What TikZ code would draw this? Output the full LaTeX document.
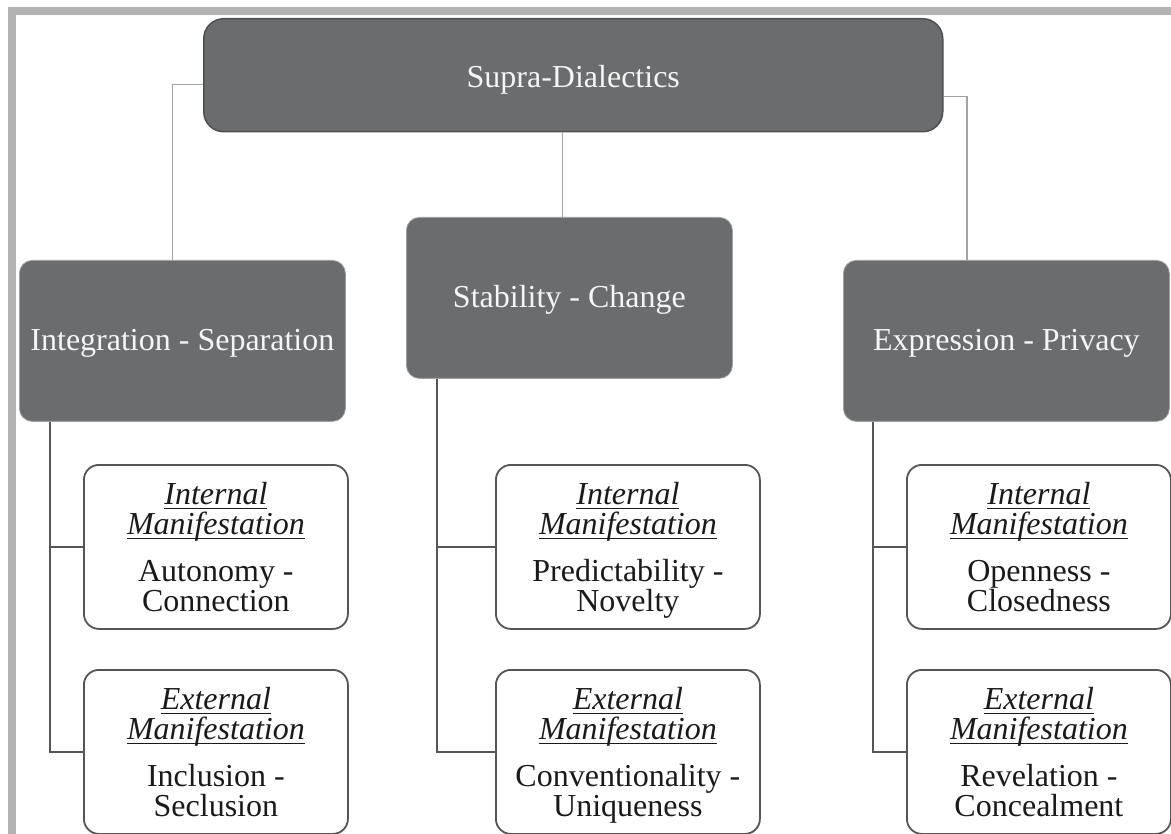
\documentclass[tikz,border=0pt]{standalone}
\usepackage{fontspec}
\setmainfont{Liberation Serif}
\definecolor{boxgrey}{HTML}{6B6C6E}
\definecolor{topedge}{HTML}{4E4F51}
\definecolor{midedge}{HTML}{A0A0A0}
\definecolor{framegrey}{HTML}{B3B3B3}
\definecolor{lightline}{HTML}{A3A3A3}
\definecolor{darkline}{HTML}{555555}
\definecolor{textdark}{HTML}{1A1A1A}
\newsavebox\ulbox
\newcommand\ulx[1]{\sbox\ulbox{#1}\makebox[0pt][l]{\rule[-4.5pt]{\wd\ulbox}{1.4pt}}\usebox\ulbox}
\newcommand\topstrut{\rule{0pt}{29pt}}
\newcommand\botstrut{\rule[-7pt]{0pt}{7pt}}
\tikzset{
  bigfont/.style={font=\fontsize{32}{30}\selectfont},
  topbox/.style={bigfont, anchor=north west, rounded corners=20pt, fill=boxgrey, draw=topedge, line width=1.5pt, text=white!96!black, inner sep=0pt, text height=25pt, text depth=0pt},
  midbox/.style={bigfont, anchor=north west, rounded corners=13pt, fill=boxgrey, draw=midedge, line width=0.8pt, text=white!96!black, inner sep=0pt, minimum width=326pt, minimum height=161pt, text height=20pt, text depth=0pt},
  lowbox/.style={bigfont, anchor=north west, rounded corners=15pt, fill=white, draw=darkline, line width=1.8pt, text=textdark, align=center, inner sep=0pt, minimum width=264pt, minimum height=164pt},
  toplink/.style={draw=lightline, line width=1.4pt},
  sublink/.style={draw=darkline, line width=2pt},
}
\begin{document}
\begin{tikzpicture}[x=1pt, y=-1pt]
\useasboundingbox (0,0) rectangle (1171,834);
% frame
\fill[framegrey] (8,7) rectangle (1171,15);
\fill[framegrey] (8,7) rectangle (16,834);

% nodes
\node[topbox, minimum width=739pt, minimum height=113pt] (T) at (203,18) {Supra-Dialectics};
\node[midbox] (L) at (19,260) {Integration - Separation};
\node[midbox] (M) at (406,217) {Stability - Change};
\node[midbox] (R) at (843,260) {Expression - Privacy};

\node[lowbox] (LI) at (83,464) {\topstrut\ulx{\itshape Internal}\\\ulx{\itshape Manifestation}\\[17pt]Autonomy -\\Connection\botstrut};
\node[lowbox] (LE) at (83,669) {\topstrut\ulx{\itshape External}\\\ulx{\itshape Manifestation}\\[17pt]Inclusion -\\Seclusion\botstrut};
\node[lowbox] (MI) at (495,464) {\topstrut\ulx{\itshape Internal}\\\ulx{\itshape Manifestation}\\[17pt]Predictability -\\Novelty\botstrut};
\node[lowbox] (ME) at (495,669) {\topstrut\ulx{\itshape External}\\\ulx{\itshape Manifestation}\\[17pt]Conventionality -\\Uniqueness\botstrut};
\node[lowbox] (RI) at (906,464) {\topstrut\ulx{\itshape Internal}\\\ulx{\itshape Manifestation}\\[17pt]Openness -\\Closedness\botstrut};
\node[lowbox] (RE) at (906,669) {\topstrut\ulx{\itshape External}\\\ulx{\itshape Manifestation}\\[17pt]Revelation -\\Concealment\botstrut};

% top-level connectors
\draw[toplink] ([yshift=-9.5pt]T.west) -| ([xshift=-10pt]L.north);
\draw[toplink] ([yshift=-21.5pt]T.east) -| ([xshift=-39.5pt]R.north);
\draw[toplink] ([xshift=-11pt]T.south) -- ([xshift=-11pt]T.south |- M.north);

% sub connectors
\coordinate (lv) at ([xshift=31pt]L.south west);
\coordinate (mv) at ([xshift=31pt]M.south west);
\coordinate (rv) at ([xshift=30pt]R.south west);
\draw[sublink] (lv) |- (LE.west);
\draw[sublink] (LI.west) -- (LI.west -| lv);
\draw[sublink] (mv) |- (ME.west);
\draw[sublink] (MI.west) -- (MI.west -| mv);
\draw[sublink] (rv) |- (RE.west);
\draw[sublink] (RI.west) -- (RI.west -| rv);
\end{tikzpicture}
\end{document}
